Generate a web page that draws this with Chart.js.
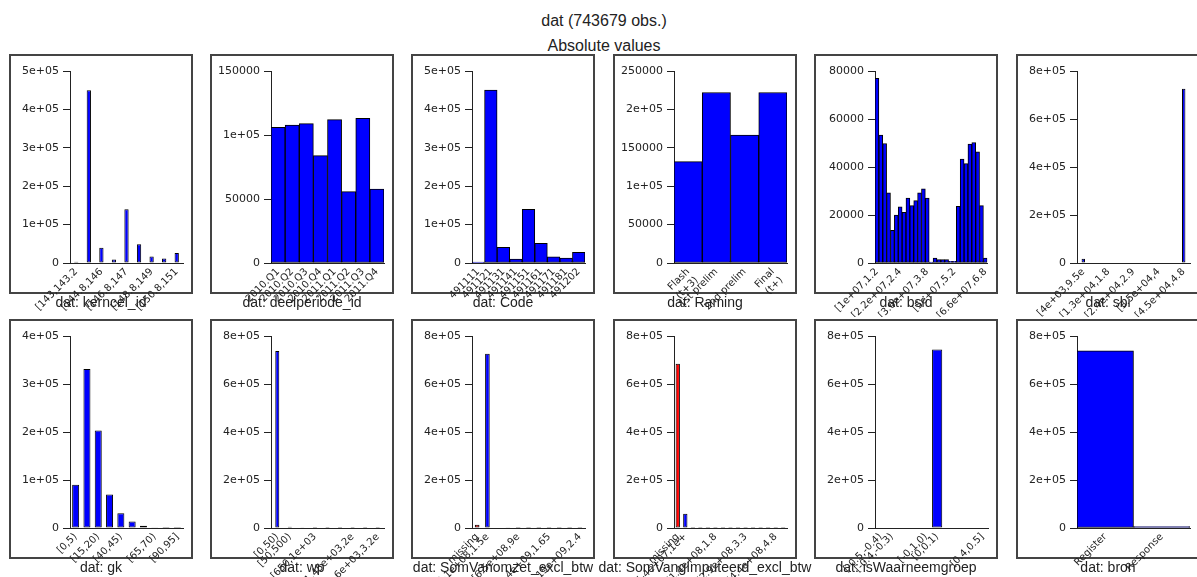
<!DOCTYPE html>
<html>
<head>
<meta charset="utf-8">
<script src="https://cdn.jsdelivr.net/npm/chart.js@4.4.1/dist/chart.umd.min.js"></script>
<style>
  html, body { margin: 0; padding: 0; background: #fff; overflow: hidden; }
  #page { position: relative; width: 1197px; height: 577px; overflow: hidden; }
  .title { position: absolute; left: 604px; transform: translateX(-50%); font: 16px "Liberation Sans", Arial, sans-serif; line-height: 16px; color: #222; white-space: nowrap; }
  .box { position: absolute; width: 184px; height: 240px; border: 2px solid #444; box-sizing: border-box; }
  .panel { position: absolute; }
  .xtitle { position: absolute; transform: translateX(-50%); font: 14px "Liberation Sans", Arial, sans-serif; line-height: 14px; color: #222; white-space: nowrap; }
</style>
</head>
<body>
<div id="page">
  <div class="title" style="top:13px">dat (743679 obs.)</div>
  <div class="title" style="top:38px">Absolute values</div>
</div>
<script>
// --- data ---
const kerncelLabels = ["[143,143.2", "(143.2,144.8", "[144.8,146", "(146,146.8", "[146.8,147", "(147,148.8", "[148.8,149", "(149,150.8", "[150.8,151"];
const kerncelValues = [3000, 450000, 40000, 9000, 140000, 49000, 17000, 12000, 26000];
const kerncelShown = [0, 2, 4, 6, 8];

const deelLabels = ["2010.Q1", "2010.Q2", "2010.Q3", "2010.Q4", "2011.Q1", "2011.Q2", "2011.Q3", "2011.Q4"];
const deelValues = [106000, 107800, 108900, 83900, 112000, 55800, 113000, 57800];
const deelShown = [0, 1, 2, 3, 4, 5, 6, 7];

const codeLabels = ["491111", "491121", "491131", "491141", "491151", "491161", "491171", "491181", "491202"];
const codeValues = [2600, 450000, 40700, 10000, 140000, 51000, 16000, 13000, 27700];
const codeShown = [0, 1, 2, 3, 4, 5, 6, 7, 8];

const ramingLabels = [["Flash", "(t+3)"], "1st prelim", "2nd prelim", ["Final", "(t+)"]];
const ramingValues = [131900, 222000, 166500, 222000];
const ramingShown = [0, 1, 2, 3];

const bsidLabels = ["[1e+07,1.2", "[1.2e+07,1.4", "[1.4e+07,1.6", "[1.6e+07,1.8", "[1.8e+07,2", "[2e+07,2.2",
  "[2.2e+07,2.4", "[2.4e+07,2.6", "[2.6e+07,2.8", "[2.8e+07,3", "[3e+07,3.2", "[3.2e+07,3.4", "[3.4e+07,3.6",
  "[3.6e+07,3.8", "[3.8e+07,4", "[4e+07,4.2", "[4.2e+07,4.4", "[4.4e+07,4.6", "[4.6e+07,4.8", "[4.8e+07,5",
  "[5e+07,5.2", "[5.2e+07,5.4", "[5.4e+07,5.6", "[5.6e+07,5.8", "[5.8e+07,6", "[6e+07,6.2", "[6.2e+07,6.4",
  "[6.4e+07,6.6", "[6.6e+07,6.8"];
const bsidValues = [76900, 53300, 49800, 29200, 13600, 20000, 23400, 21100, 27100, 23900, 26000, 29200, 30900,
  27100, 400, 2100, 1400, 1400, 1400, 700, 700, 23600, 43300, 41400, 49500, 50200, 46300, 23900, 2100];
const bsidShown = [0, 6, 13, 20, 28];

const sbiLabels = ["[4e+03,9.5e", "[9.5e+03,1.3", "[1.3e+04,1.8", "[1.8e+04,2.4", "[2.4e+04,2.9", "[2.9e+04,3.5", "[3.5e+04,4", "[4e+04,4.5", "[4.5e+04,4.8"];
const sbiValues = [18000, 0, 0, 0, 0, 0, 0, 0, 725679];
const sbiShown = [0, 2, 4, 6, 8];

const gkLabels = ["[0,5)", "[5,15)", "[15,20)", "[20,40)", "[40,45)", "[45,55)", "[55,65)", "[65,70)", "[70,90)", "[90,95]"];
const gkValues = [90000, 331000, 203000, 70000, 30500, 13500, 4800, 600, 200, 80];
const gkShown = [0, 2, 4, 7, 9];

const wpLabels = ["[0,50)", "[50,500)", "[500,650)", "[650,1e+03", "[1e+03,1.2e", "[1.2e+03,1.45", "[1.45e+03,2e", "[2e+03,2.6e", "[2.6e+03,3.2e"];
const wpValues = [737500, 5200, 700, 180, 60, 20, 10, 5, 4];
const wpShown = [0, 1, 3, 6, 8];

const omzetLabels = ["missing", "[-1e+08,1.5e", "[1.5e+08,4e", "[4e+08,6.5e", "[6.5e+08,9e", "[9e+08,1.15e",
  "[1.15e+09,1.4", "[1.4e+09,1.65", "[1.65e+09,1.9", "[1.9e+09,2.15", "[2.15e+09,2.4"];
const omzetValues = [14000, 726000, 2000, 800, 400, 200, 100, 60, 40, 20, 10];
const omzetShown = [0, 1, 4, 7, 10];

const imputLabels = ["missing", "[-4e+07,1e+", "[1e+07,5e+", "[5e+07,9e+", "[9e+07,1.4e", "[1.4e+08,1.8",
  "[1.8e+08,2.2", "[2.2e+08,2.5", "[2.5e+08,2.9", "[2.9e+08,3.3", "[3.3e+08,3.6", "[3.6e+08,4",
  "[4e+08,4.4", "[4.4e+08,4.8", "[4.8e+08,5.1"];
const imputValues = [684000, 59000, 400, 150, 60, 30, 15, 10, 5, 3, 2, 1, 1, 1, 1];
const imputShown = [0, 1, 5, 9, 13];

const waarnLabels = ["[-0.5,-0.4)", "[-0.4,-0.3)", "[-0.3,-0.2)", "[-0.2,-0.1)", "[-0.1,0)", "[0,0.1)", "[0.1,0.2)", "[0.2,0.3)", "[0.3,0.4)", "[0.4,0.5]"];
const waarnValues = [0, 0, 0, 0, 0, 743679, 0, 0, 0, 0];
const waarnShown = [0, 1, 4, 5, 9];

const bronLabels = ["Register", "Response"];
const bronValues = [737700, 5979];
const bronShown = [0, 1];

// --- panels, in reading order ---
const panels = [
  { title: "dat: kerncel_id", labels: kerncelLabels, values: kerncelValues, shown: kerncelShown, yMax: 500000, yStep: 100000, bar: 0.34 },
  { title: "dat: deelperiode_id", labels: deelLabels, values: deelValues, shown: deelShown, yMax: 150000, yStep: 50000, bar: 1 },
  { title: "dat: Code", labels: codeLabels, values: codeValues, shown: codeShown, yMax: 500000, yStep: 100000, bar: 1 },
  { title: "dat: Raming", labels: ramingLabels, values: ramingValues, shown: ramingShown, yMax: 250000, yStep: 50000, bar: 1 },
  { title: "dat: bsid", labels: bsidLabels, values: bsidValues, shown: bsidShown, yMax: 80000, yStep: 20000, bar: 1 },
  { title: "dat: sbi", labels: sbiLabels, values: sbiValues, shown: sbiShown, yMax: 800000, yStep: 200000, bar: 0.27 },
  { title: "dat: gk", labels: gkLabels, values: gkValues, shown: gkShown, yMax: 400000, yStep: 100000, bar: 0.62 },
  { title: "dat: wp", labels: wpLabels, values: wpValues, shown: wpShown, yMax: 800000, yStep: 200000, bar: 0.32 },
  { title: "dat: SomVanomzet_excl_btw", labels: omzetLabels, values: omzetValues, shown: omzetShown, yMax: 800000, yStep: 200000, bar: 0.45 },
  { title: "dat: SomVangImputeerd_excl_btw", labels: imputLabels, values: imputValues, shown: imputShown, yMax: 800000, yStep: 200000, bar: 0.57 },
  { title: "dat: isWaarneemgroep", labels: waarnLabels, values: waarnValues, shown: waarnShown, yMax: 800000, yStep: 200000, bar: 0.9 },
  { title: "dat: bron", labels: bronLabels, values: bronValues, shown: bronShown, yMax: 800000, yStep: 200000, bar: 1 }
];

// R-style axis numbers: fixed unless scientific is shorter
function rLabel(v) {
  if (v === 0) return "0";
  const fixed = String(v);
  const exp = Math.floor(Math.log10(Math.abs(v)));
  const mant = Math.round(v / Math.pow(10, exp) * 1e6) / 1e6;
  const sci = mant + "e" + (exp < 0 ? "-" : "+") + String(Math.abs(exp)).padStart(2, "0");
  return fixed.length <= sci.length ? fixed : sci;
}

Chart.defaults.font.family = "'DejaVu Sans', sans-serif";
Chart.defaults.color = "#222";

const page = document.getElementById("page");
const boxLefts = [10, 211, 412, 614, 815, 1017];
const boxTops = [55, 320];
const W = 182, H = 262;
const plotTop = 16, plotBottom = 208, plotRight = 173, axisX = 60;

panels.forEach(function (p, i) {
  const left = boxLefts[i % 6];
  const top = boxTops[Math.floor(i / 6)];

  const box = document.createElement("div");
  box.className = "box";
  box.style.left = (left - 1) + "px";
  box.style.top = (top - 1) + "px";
  page.appendChild(box);

  const canvas = document.createElement("canvas");
  canvas.className = "panel";
  canvas.width = W;
  canvas.height = H;
  canvas.style.left = left + "px";
  canvas.style.top = top + "px";
  canvas.style.width = W + "px";
  canvas.style.height = H + "px";
  page.appendChild(canvas);

  const xt = document.createElement("div");
  xt.className = "xtitle";
  xt.textContent = p.title;
  xt.style.left = (left + W / 2) + "px";
  xt.style.top = (top + 240) + "px";
  page.appendChild(xt);

  const colors = p.labels.map(function (l) { return l === "missing" ? "#ff0000" : "#0000ff"; });

  new Chart(canvas.getContext("2d"), {
    type: "bar",
    data: {
      labels: p.labels,
      datasets: [{
        data: p.values,
        backgroundColor: colors,
        borderColor: "#000",
        borderWidth: 1,
        borderSkipped: false,
        barPercentage: p.bar,
        categoryPercentage: 1
      }]
    },
    options: {
      responsive: false,
      animation: false,
      devicePixelRatio: 1,
      layout: { padding: { top: plotTop, right: W - plotRight, left: 0, bottom: 0 } },
      plugins: { legend: { display: false }, tooltip: { enabled: false } },
      scales: {
        x: {
          grid: { display: false, drawTicks: false },
          border: { display: true, color: "#222" },
          ticks: {
            autoSkip: false,
            minRotation: 45,
            maxRotation: 45,
            padding: 3,
            font: { size: 10 },
            callback: function (v, idx) { return p.shown.includes(idx) ? p.labels[idx] : ""; }
          },
          afterFit: function (s) { s.height = H - plotBottom; }
        },
        y: {
          min: 0,
          max: p.yMax,
          grid: { drawOnChartArea: false, drawTicks: true, tickLength: 7, color: "#222" },
          border: { display: true, color: "#222" },
          ticks: { stepSize: p.yStep, padding: 4, font: { size: 11 }, callback: rLabel },
          afterFit: function (s) { s.width = axisX; }
        }
      }
    }
  });
});
</script>
</body>
</html>
